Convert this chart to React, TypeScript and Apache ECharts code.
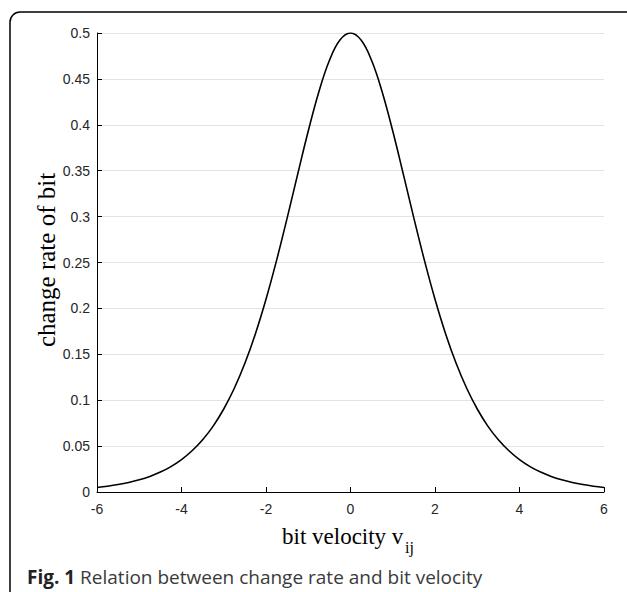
import React, { useEffect, useRef } from "react";
import * as echarts from "echarts";

const xValues = [
  -6, -5.75, -5.5, -5.25, -5, -4.75, -4.5, -4.25, -4, -3.75, -3.5, -3.25, -3,
  -2.75, -2.5, -2.25, -2, -1.75, -1.5, -1.25, -1, -0.75, -0.5, -0.25, 0,
  0.25, 0.5, 0.75, 1, 1.25, 1.5, 1.75, 2, 2.25, 2.5, 2.75, 3, 3.25, 3.5,
  3.75, 4, 4.25, 4.5, 4.75, 5, 5.25, 5.5, 5.75, 6,
];
const changeRate = [
  0.0049, 0.0063, 0.0081, 0.0104, 0.0133, 0.017, 0.0217, 0.0277, 0.0353,
  0.0449, 0.0569, 0.0718, 0.0904, 0.113, 0.1402, 0.1725, 0.21, 0.2523,
  0.2983, 0.3462, 0.3932, 0.4358, 0.47, 0.4923, 0.5, 0.4923, 0.47, 0.4358,
  0.3932, 0.3462, 0.2983, 0.2523, 0.21, 0.1725, 0.1402, 0.113, 0.0904,
  0.0718, 0.0569, 0.0449, 0.0353, 0.0277, 0.0217, 0.017, 0.0133, 0.0104,
  0.0081, 0.0063, 0.0049,
];
const xAxisName = "bit velocity v";
const xAxisSub = "ij";
const yAxisName = "change rate of bit";
const captionBold = "Fig. 1";
const captionText = " Relation between change rate and bit velocity";

export default function App() {
  const ref = useRef<HTMLDivElement>(null);
  useEffect(() => {
    if (!ref.current) return;
    const chart = echarts.init(ref.current, null, { renderer: "svg" });
    const serif = "'Liberation Serif', 'DejaVu Serif', serif";
    const sans = "'Liberation Sans', Arial, sans-serif";
    chart.setOption({
      animation: false,
      backgroundColor: "#ffffff",
      grid: { left: 97, right: 23, top: 33, bottom: 100 },
      xAxis: {
        type: "value",
        min: -6,
        max: 6,
        interval: 2,
        axisLine: { onZero: false, lineStyle: { color: "#000", width: 1 } },
        axisTick: { inside: true, length: 5, lineStyle: { color: "#000" } },
        axisLabel: { color: "#262626", fontSize: 14, fontFamily: sans, margin: 10 },
        splitLine: { show: false },
      },
      yAxis: {
        type: "value",
        min: 0,
        max: 0.5,
        interval: 0.05,
        axisLine: { show: true, onZero: false, lineStyle: { color: "#000", width: 1 } },
        axisTick: { show: true, inside: true, length: 5, lineStyle: { color: "#000" } },
        axisLabel: {
          color: "#262626",
          fontSize: 14,
          fontFamily: sans,
          margin: 7,
          formatter: (v: number) => String(parseFloat(v.toFixed(2))),
        },
        splitLine: { show: true, lineStyle: { color: "#e3e3e3", width: 1 } },
      },
      series: [
        {
          type: "line",
          data: xValues.map((x, i) => [x, changeRate[i]]),
          showSymbol: false,
          smooth: 0.4,
          lineStyle: { color: "#000", width: 1.6 },
        },
      ],
      graphic: [
        {
          type: "rect",
          shape: { x: 10, y: 12, width: 700, height: 700, r: [10, 0, 0, 0] },
          style: { fill: "none", stroke: "#000", lineWidth: 1.5 },
          silent: true,
        },
        {
          type: "text",
          x: 46,
          y: 260,
          rotation: Math.PI / 2,
          style: {
            text: yAxisName,
            font: `25px ${serif}`,
            fill: "#000",
            align: "center",
            verticalAlign: "middle",
          },
        },
        {
          type: "text",
          x: 282,
          y: 536,
          style: {
            text: xAxisName,
            font: `23px ${serif}`,
            fill: "#000",
            align: "left",
            verticalAlign: "middle",
          },
        },
        {
          type: "text",
          x: 405,
          y: 547,
          style: {
            text: xAxisSub,
            font: `16px ${serif}`,
            fill: "#000",
            align: "left",
            verticalAlign: "middle",
          },
        },
        {
          type: "text",
          x: 27,
          y: 577,
          style: {
            text: `{b|${captionBold}}{n|${captionText}}`,
            verticalAlign: "middle",
            rich: {
              b: { font: `bold 19px 'Open Sans', sans-serif`, fill: "#222" },
              n: { font: `19px 'Open Sans', sans-serif`, fill: "#3a3a3a" },
            },
          },
        },
      ],
    });
    return () => chart.dispose();
  }, []);
  return (
    <div
      ref={ref}
      style={{ position: "fixed", left: 0, top: 0, width: 627, height: 592 }}
    />
  );
}
